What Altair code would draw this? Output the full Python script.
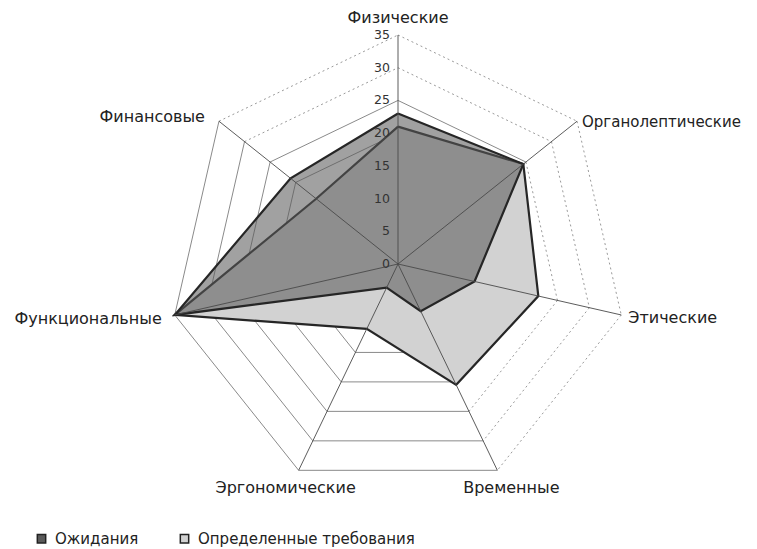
import altair as alt
import pandas as pd

# ---------------- data ----------------
categories = ["Физические", "Органолептические", "Этические", "Временные",
              "Эргономические", "Функциональные", "Финансовые"]
series_names = ["Ожидания", "Определенные требования"]
expect_vals = [23, 24.5, 12, 8, 4, 35, 21]          # Ожидания
required_vals = [21, 24.5, 22, 20.5, 11, 35, 16]    # Определенные требования
ring_levels = [5, 10, 15, 20, 25, 30, 35]
tick_values = [0, 5, 10, 15, 20, 25, 30, 35]

# ---------------- layout ----------------
N = len(categories)
RMAX = 35
W, H = 741, 541
CX, CY = 390, 256
K = 229 / RMAX
xs = alt.Scale(domain=[-CX / K, (W - CX) / K], nice=False, zero=False)
ys = alt.Scale(domain=[-(H - CY) / K, CY / K], nice=False, zero=False)
FONT = "DejaVu Sans"
DOTTED_SEGMENTS = {0, 1, 2, 6}

ANG = "datum.i * 2 * PI / %d" % N
def polar(ch):
    return ch.transform_calculate(
        x="datum.r * sin(" + ANG + ")",
        y="datum.r * cos(" + ANG + ")",
    )

X = alt.X("x:Q", scale=xs, axis=None)
Y = alt.Y("y:Q", scale=ys, axis=None)

rows = []
for name, vals in zip(series_names, [expect_vals, required_vals]):
    for i in range(N + 1):
        rows.append({"series": name, "i": i, "r": vals[i % N]})
series_df = pd.DataFrame(rows)

ring_rows = []
for r in ring_levels:
    for k in range(N):
        style = "dot" if (k in DOTTED_SEGMENTS and r > 25) or k in (1, 2) else "solid"
        ring_rows.append({"key": f"{r}-{k}", "i": k, "r": r, "style": style})
        ring_rows.append({"key": f"{r}-{k}", "i": k + 1, "r": r, "style": style})
ring_df = pd.DataFrame(ring_rows)

spoke_df = pd.DataFrame(
    [{"key": k, "i": k, "r": 0} for k in range(N)]
    + [{"key": k, "i": k, "r": RMAX} for k in range(N)]
)

tick_df = pd.DataFrame({"i": 0, "r": tick_values, "label": [str(t) for t in tick_values]})
cat_df = pd.DataFrame({"i": list(range(N)), "r": RMAX, "name": categories})

fill_scale = alt.Scale(domain=series_names, range=["#5a5a5a", "#d2d2d2"])
legend = alt.Legend(
    title=None, orient="none", legendX=26, legendY=523, direction="horizontal",
    symbolType="square", symbolSize=70, symbolStrokeColor="#222", symbolStrokeWidth=1.5,
    labelFont=FONT, labelFontSize=15, labelColor="#222", labelOffset=6, labelLimit=0,
    columnPadding=38,
)

rings_solid = polar(alt.Chart(ring_df)).transform_filter(alt.datum.style == "solid").mark_line(
    color="#8a8a8a", strokeWidth=1).encode(x=X, y=Y, detail="key:N", order="i:Q")
rings_dot = polar(alt.Chart(ring_df)).transform_filter(alt.datum.style == "dot").mark_line(
    color="#9a9a9a", strokeWidth=1, strokeDash=[2, 3]).encode(x=X, y=Y, detail="key:N", order="i:Q")

def poly(name, opacity):
    return polar(alt.Chart(series_df)).transform_filter(alt.datum.series == name).mark_line(
        stroke="#262626", strokeWidth=2.2, fillOpacity=opacity, strokeJoin="miter"
    ).encode(x=X, y=Y, order="i:Q",
             fill=alt.Fill("series:N", scale=fill_scale, legend=legend))

poly_req = poly("Определенные требования", 1.0)
poly_exp = poly("Ожидания", 0.57)

spokes = polar(alt.Chart(spoke_df)).mark_line(color="#4a4a4a", strokeWidth=0.9).encode(
    x=X, y=Y, detail="key:N", order="r:Q")

ticks = polar(alt.Chart(tick_df)).mark_text(
    align="right", baseline="middle", dx=-8, font=FONT, fontSize=12.5, color="#333"
).encode(x=X, y=Y, text="label:N")

label_layers = []
placements = [
    (0, "center", 0, -17),
    (1, "left", 5, 1),
    (2, "left", 7, 3),
    (3, "center", 14, 18),
    (4, "center", -13, 18),
    (5, "right", -13, 4),
    (6, "right", -14, -4),
]
for idx, al, dx, dy in placements:
    label_layers.append(
        polar(alt.Chart(cat_df)).transform_filter(alt.datum.i == idx).mark_text(
            align=al, baseline="middle", dx=dx, dy=dy, font=FONT,
            fontSize=15 if idx == 1 else 16, color="#222"
        ).encode(x=X, y=Y, text="name:N")
    )

chart = alt.layer(
    rings_solid, rings_dot, poly_req, poly_exp, spokes, ticks, *label_layers
).properties(
    width=W, height=H, autosize=alt.AutoSizeParams(type="none"), padding=0,
    background="white"
).configure_view(stroke=None)

chart.save("out.html", embed_options={"renderer": "svg", "actions": False})
